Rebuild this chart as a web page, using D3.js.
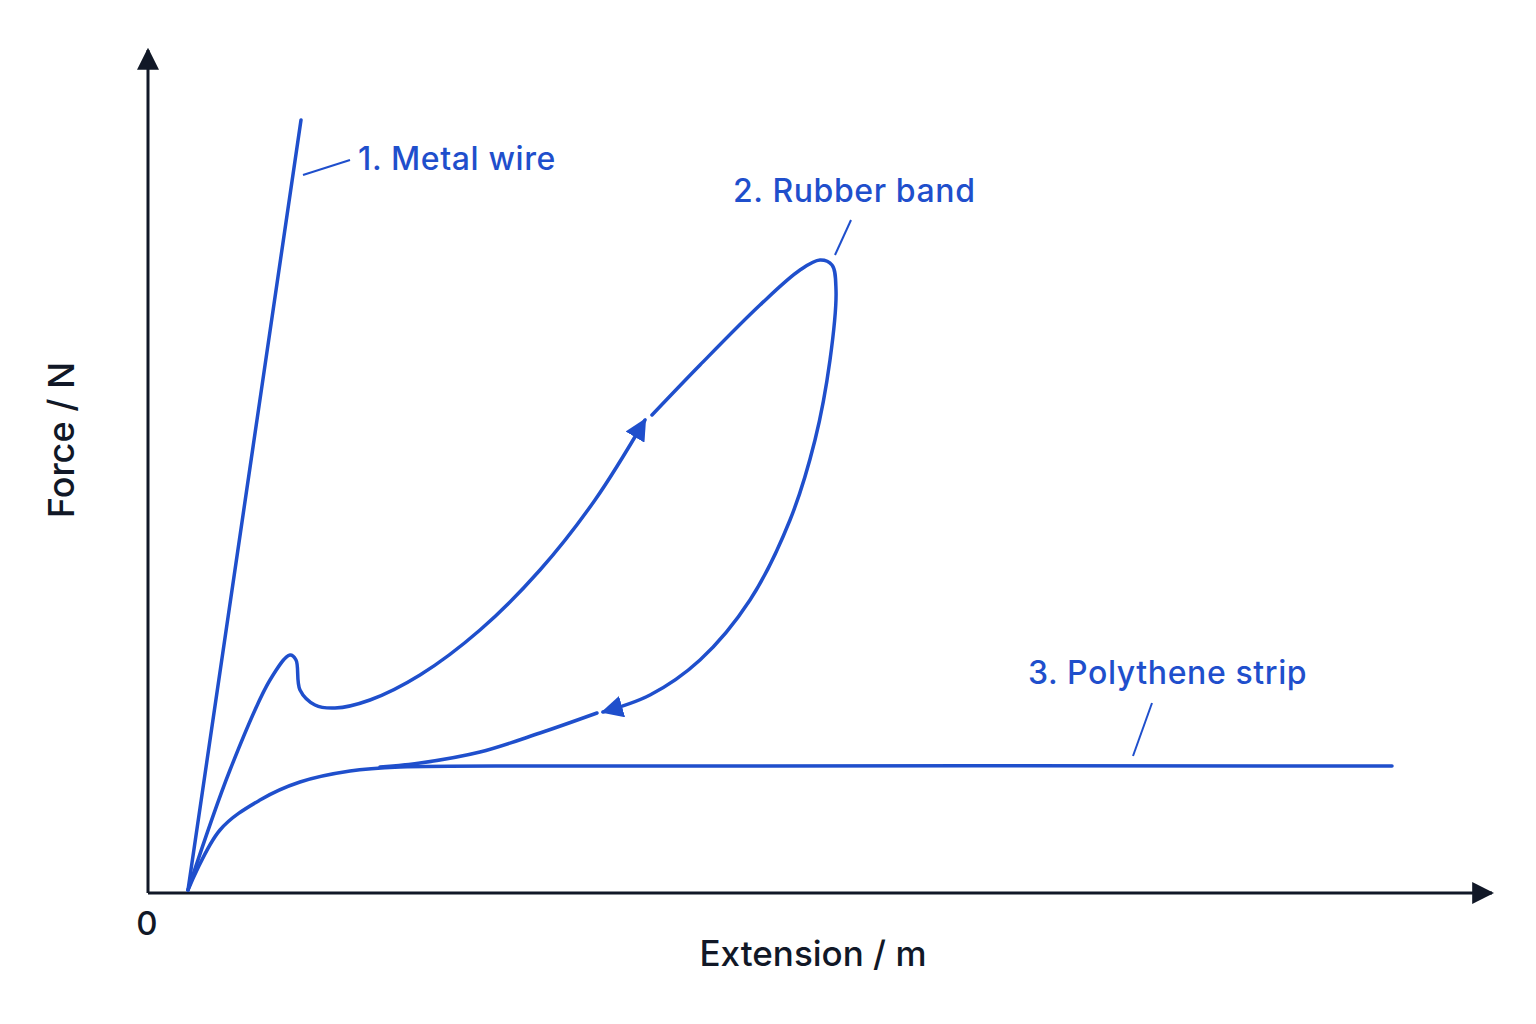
<!DOCTYPE html>
<html><head><meta charset="utf-8">
<script src="https://cdn.jsdelivr.net/npm/d3@7"></script>
<style>body{margin:0;background:#fff}</style></head>
<body><svg id="c" width="1536" height="1024"></svg>
<script>
// data in chart units (x: extension, y: force)
const metalWire = [[40,3],[153,773]];
const rubberLoad1 = [[40,3],[82,123],[122,213],[142,238],[148,233],[152,203],[167,188],[187,185],[222,193],[272,218],[332,263],[392,323],[447,393],[497,473]];
const rubberLoad2 = [[504,478],[552,528],[612,588],[652,623],[672,633],[684,628],[688,603],[682,533],[667,453],[642,373],[602,293],[552,233],[502,198],[455,181]];
const rubberUnload2 = [[449,180],[392,160],[332,141],[272,130],[232,126]];
const polythene = [[40,3],[72,63],[112,93],[152,111],[202,122],[252,126],[452,127],[1244,127]];
const labels = [
  {text:"1. Metal wire", x:210, y:723, lead:[[155,718],[202,733]]},
  {text:"2. Rubber band", x:585, y:691, lead:[[687,638],[703,673]]},
  {text:"3. Polythene strip", x:880, y:209, lead:[[985,137],[1004,190]]}
];
const blue = "#1f4fcc", ink = "#111827";
const svg = d3.select("#c");
const x = d3.scaleLinear().domain([0,1344]).range([148,1492]);
const y = d3.scaleLinear().domain([0,843]).range([893,50]);
const defs = svg.append("defs");
function arrow(id,color,size){
  defs.append("marker").attr("id",id).attr("viewBox","0 0 10 10").attr("refX",9).attr("refY",5)
    .attr("markerWidth",size).attr("markerHeight",size).attr("markerUnits","userSpaceOnUse").attr("orient","auto")
    .append("path").attr("d","M0,0L10,5L0,10Z").attr("fill",color);
}
arrow("ax",ink,22); arrow("bl",blue,22);
svg.append("line").attr("x1",x(0)).attr("y1",y(0)).attr("x2",x(1344)).attr("y2",y(0)).attr("stroke",ink).attr("stroke-width",3).attr("marker-end","url(#ax)");
svg.append("line").attr("x1",x(0)).attr("y1",y(0)).attr("x2",x(0)).attr("y2",y(843)).attr("stroke",ink).attr("stroke-width",3).attr("marker-end","url(#ax)");
const line = d3.line().x(d=>x(d[0])).y(d=>y(d[1])).curve(d3.curveCatmullRom.alpha(0.5));
function draw(data,marker){
  const p = svg.append("path").datum(data).attr("d",line).attr("fill","none").attr("stroke",blue).attr("stroke-width",3.5).attr("stroke-linecap","round");
  if(marker) p.attr("marker-end","url(#bl)");
}
draw(metalWire); draw(polythene); draw(rubberLoad1,true); draw(rubberLoad2,true); draw(rubberUnload2);
const font = "Inter, 'Noto Sans', sans-serif";
labels.forEach(l=>{
  svg.append("text").attr("x",x(l.x)).attr("y",y(l.y)).attr("fill",blue).attr("font-family",font).attr("font-weight",500).attr("font-size",32).attr("letter-spacing",0.6).text(l.text);
  svg.append("path").datum(l.lead).attr("d",d3.line().x(d=>x(d[0])).y(d=>y(d[1]))).attr("stroke",blue).attr("stroke-width",2);
});
svg.append("text").attr("x",813).attr("y",966).attr("text-anchor","middle").attr("font-family",font).attr("font-weight",500).attr("font-size",35).attr("fill",ink).text("Extension / m");
svg.append("text").attr("transform","translate(74,440) rotate(-90)").attr("text-anchor","middle").attr("font-family",font).attr("font-weight",500).attr("font-size",36).attr("fill",ink).text("Force / N");
svg.append("text").attr("x",147).attr("y",935).attr("text-anchor","middle").attr("font-family",font).attr("font-weight",500).attr("font-size",33).attr("fill",ink).text("0");
</script></body></html>
